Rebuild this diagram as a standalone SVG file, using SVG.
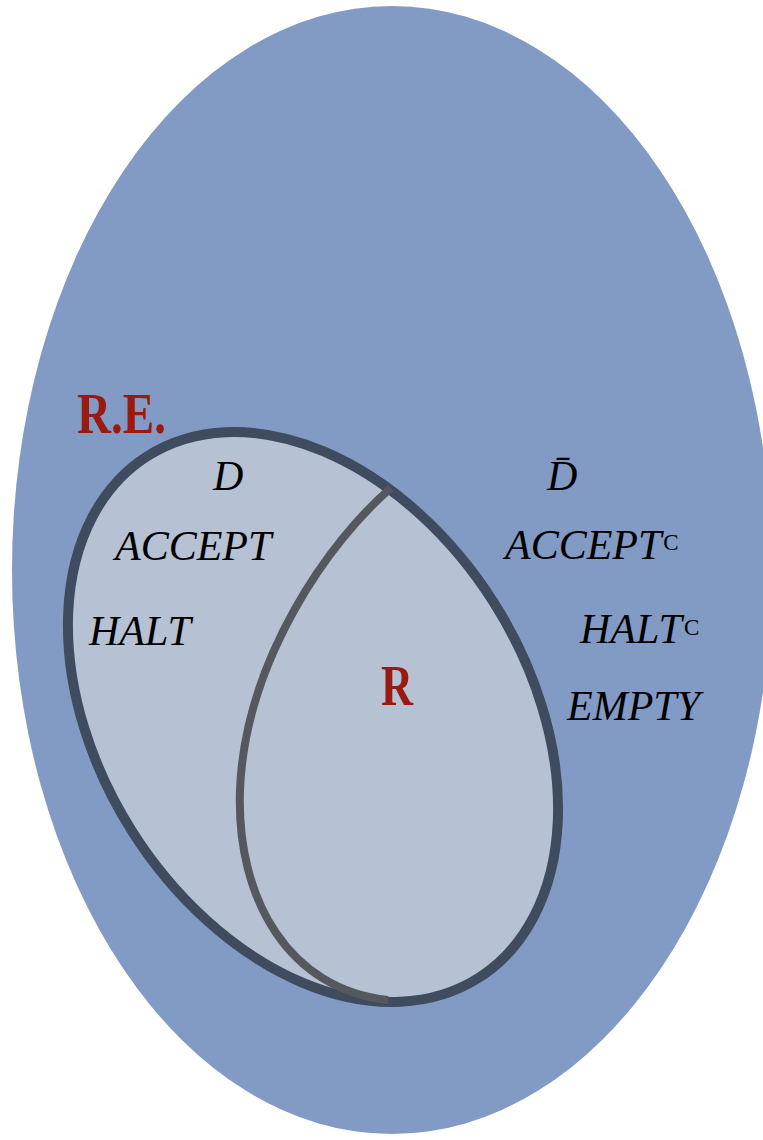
<svg xmlns="http://www.w3.org/2000/svg" width="763" height="1140" viewBox="0 0 763 1140">
<style>
.lab{font-family:"Liberation Serif","Times New Roman",serif;font-style:italic;font-size:42px;fill:#000}
.sup{font-family:"Liberation Serif","Times New Roman",serif;font-style:normal;font-size:23px;fill:#000}
.big{font-family:"Liberation Serif","Times New Roman",serif;font-weight:bold;font-size:56px;fill:#9b1a0f}
</style>
<defs>
<filter id="grain" x="0" y="0" width="100%" height="100%">
<feTurbulence type="fractalNoise" baseFrequency="0.9" numOctaves="2" seed="3"/>
<feColorMatrix type="matrix" values="0 0 0 0 0.3  0 0 0 0 0.35  0 0 0 0 0.45  0 0 0 0.18 0"/>
</filter>
<clipPath id="uclip"><ellipse cx="392" cy="570" rx="380" ry="564"/></clipPath>
</defs>
<rect width="763" height="1140" fill="#ffffff"/>
<g id="universe">
<ellipse cx="392" cy="570" rx="380" ry="564" fill="#809ac6"/>
<rect width="763" height="1140" filter="url(#grain)" clip-path="url(#uclip)"/>
</g>
<g id="re">
<ellipse cx="0" cy="0" rx="214" ry="309" transform="translate(313,717) rotate(-32.4)" fill="#b6c1d4" stroke="#3f4b5e" stroke-width="10"/>
<text class="big" x="77" y="433" textLength="89" lengthAdjust="spacingAndGlyphs">R.E.</text>
</g>
<g id="connectors">
<path d="M391,488 C330,540 245,660 240,790 C236,900 290,990 388,1000" fill="none" stroke="#55595f" stroke-width="8"/>
</g>
<g id="r">
<text class="big" x="381" y="705" textLength="32" lengthAdjust="spacingAndGlyphs">R</text>
</g>
<g id="inside">
<text class="lab" x="213" y="490">D</text>
<text class="lab" x="115" y="560">ACCEPT</text>
<text class="lab" x="89" y="645">HALT</text>
</g>
<g id="outside">
<text class="lab" x="547" y="490">D̄</text>
<text class="lab" x="505" y="559">ACCEPT<tspan class="sup" dx="2" dy="-9">C</tspan></text>
<text class="lab" x="580" y="643">HALT<tspan class="sup" dx="2" dy="-8">C</tspan></text>
<text class="lab" x="567" y="720">EMPTY</text>
</g>
</svg>
